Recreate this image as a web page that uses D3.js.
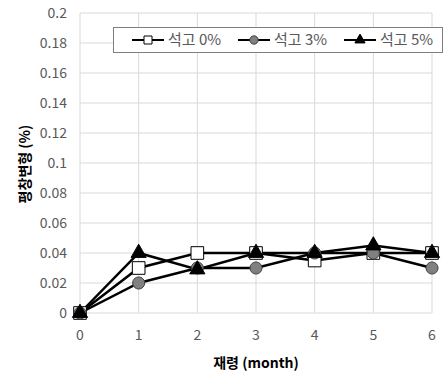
<!DOCTYPE html>
<html>
<head>
<meta charset="utf-8">
<script src="https://cdn.jsdelivr.net/npm/d3@7"></script>
<style>
  body { margin: 0; background: #fff; }
  svg { display: block; font-family: "Noto Sans CJK KR", "Noto Sans", sans-serif; }
</style>
</head>
<body>
<svg id="chart" width="448" height="385"></svg>
<script>
// ages in months
const months = [0, 1, 2, 3, 4, 5, 6];
const yTicks = [0, 0.02, 0.04, 0.06, 0.08, 0.1, 0.12, 0.14, 0.16, 0.18, 0.2];
const seriesNames = ["석고 0%", "석고 3%", "석고 5%"];
const gypsum0 = [0, 0.03, 0.04, 0.04, 0.035, 0.04, 0.04];
const gypsum3 = [0, 0.02, 0.03, 0.03, 0.04, 0.04, 0.03];
const gypsum5 = [0, 0.04, 0.029, 0.04, 0.04, 0.045, 0.04];

const series = [
  { name: seriesNames[0], values: gypsum0, marker: "square" },
  { name: seriesNames[1], values: gypsum3, marker: "circle" },
  { name: seriesNames[2], values: gypsum5, marker: "triangle" }
];

const svg = d3.select("#chart");
const plotL = 80, plotR = 432, plotT = 13, plotB = 313;

const x = d3.scaleLinear().domain([0, 6]).range([plotL, plotR]);
const y = d3.scaleLinear().domain([0, 0.2]).range([plotB, plotT]);

// gridlines
svg.append("g")
  .selectAll("line")
  .data(yTicks)
  .join("line")
  .attr("x1", plotL).attr("x2", plotR)
  .attr("y1", d => y(d)).attr("y2", d => y(d))
  .attr("stroke", "#d9d9d9").attr("stroke-width", 1);

svg.append("g")
  .selectAll("line")
  .data(months)
  .join("line")
  .attr("x1", d => x(d)).attr("x2", d => x(d))
  .attr("y1", plotT).attr("y2", plotB)
  .attr("stroke", "#d9d9d9").attr("stroke-width", 1);

// tick labels
svg.append("g")
  .selectAll("text")
  .data(yTicks)
  .join("text")
  .attr("x", 67)
  .attr("y", d => y(d))
  .attr("dy", "0.35em")
  .attr("text-anchor", "end")
  .attr("font-size", 14)
  .attr("fill", "#595959")
  .text(d => d3.format("~g")(d));

svg.append("g")
  .selectAll("text")
  .data(months)
  .join("text")
  .attr("x", d => x(d))
  .attr("y", 335)
  .attr("dy", "0.35em")
  .attr("text-anchor", "middle")
  .attr("font-size", 14)
  .attr("fill", "#595959")
  .text(d => d);

// axis titles
svg.append("text")
  .attr("x", (plotL + plotR) / 2)
  .attr("y", 363)
  .attr("dy", "0.35em")
  .attr("text-anchor", "middle")
  .attr("font-size", 14)
  .attr("font-weight", "bold")
  .attr("fill", "#000")
  .text("재령 (month)");

svg.append("text")
  .attr("transform", "translate(25,164) rotate(-90)")
  .attr("dy", "0.35em")
  .attr("text-anchor", "middle")
  .attr("font-size", 14)
  .attr("font-weight", "bold")
  .attr("fill", "#000")
  .text("평창변형 (%)");

const sym = {
  square: d3.symbol(d3.symbolSquare, 160),
  circle: d3.symbol(d3.symbolCircle, 115),
  triangle: d3.symbol(d3.symbolTriangle, 100)
};
const fills = { square: "#fff", circle: "#808080", triangle: "#000" };

const line = d3.line().x((d, i) => x(months[i])).y(d => y(d));

// lines
svg.append("g")
  .selectAll("path")
  .data(series)
  .join("path")
  .attr("d", d => line(d.values))
  .attr("fill", "none")
  .attr("stroke", "#000")
  .attr("stroke-width", 2.5);

// markers
series.forEach(s => {
  svg.append("g")
    .selectAll("path")
    .data(s.values)
    .join("path")
    .attr("transform", (d, i) => `translate(${x(months[i])},${y(d)})`)
    .attr("d", sym[s.marker]())
    .attr("fill", fills[s.marker])
    .attr("stroke", s.marker === "circle" ? "#404040" : "#000")
    .attr("stroke-width", 1);
});

// legend
const legend = svg.append("g");
legend.append("rect")
  .attr("x", 113.5).attr("y", 27.5)
  .attr("width", 329).attr("height", 25)
  .attr("fill", "#fff")
  .attr("stroke", "#7f7f7f").attr("stroke-width", 1);

const legendX = [132, 238, 344];
const legendSym = {
  square: d3.symbol(d3.symbolSquare, 64),
  circle: d3.symbol(d3.symbolCircle, 55),
  triangle: d3.symbol(d3.symbolTriangle, 45)
};
series.forEach((s, i) => {
  const g = legend.append("g").attr("transform", `translate(${legendX[i]},40)`);
  g.append("line")
    .attr("x1", 0).attr("x2", 32)
    .attr("stroke", "#000").attr("stroke-width", 2);
  g.append("path")
    .attr("transform", "translate(16,0)")
    .attr("d", legendSym[s.marker]())
    .attr("fill", fills[s.marker])
    .attr("stroke", s.marker === "circle" ? "#404040" : "#000")
    .attr("stroke-width", 1);
  g.append("text")
    .attr("x", 36)
    .attr("dy", "0.35em")
    .attr("font-size", 15)
    .attr("fill", "#595959")
    .text(s.name);
});
</script>
</body>
</html>
